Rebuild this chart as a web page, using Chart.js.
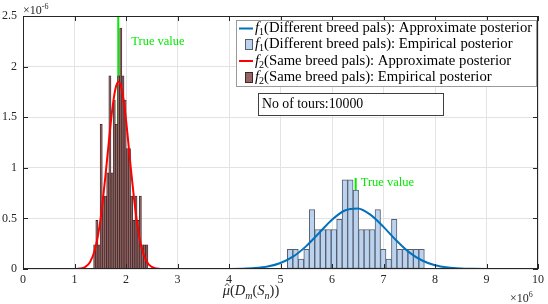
<!DOCTYPE html>
<html>
<head>
<meta charset="utf-8">
<script src="https://cdn.jsdelivr.net/npm/chart.js@4.4.1/dist/chart.umd.min.js"></script>
<style>
  html, body { margin: 0; padding: 0; background: #fff; }
  #wrap { width: 548px; height: 304px; }
</style>
</head>
<body>
<div id="wrap"><canvas id="postChart" width="548" height="304"></canvas></div>
<script>
// axis ticks (x in units of 1e6, y in units of 1e-6)
var xTickValues = [0, 1, 2, 3, 4, 5, 6, 7, 8, 9, 10];
var yTickValues = [0, 0.5, 1, 1.5, 2, 2.5];

// legend entries
var seriesNames = [
  'f_1(Different breed pals): Approximate posterior',
  'f_1(Different breed pals): Empirical posterior',
  'f_2(Same breed pals): Approximate posterior',
  'f_2(Same breed pals): Empirical posterior'
];

// f2 (same breed) histogram: 25 bins
var sameBinStart = 1.371;
var sameBinWidth = 0.0422;
var sameDensity = [0.24, 0.48, 0.24, 1.43, 0.72, 0.72, 0.95, 1.91, 0.95, 1.67, 1.43, 1.91, 2.38,
                   1.91, 1.67, 1.19, 1.19, 0.72, 0.48, 0.72, 0.48, 0.72, 0.24, 0.24, 0.24];

// f1 (different breed) histogram: 25 bins
var diffBinStart = 5.133;
var diffBinWidth = 0.1064;
var diffDensity = [0.195, 0.195, 0.098, 0.195, 0.586, 0.39, 0.39, 0.39, 0.39, 0.49, 0.88, 0.88, 0.78,
                   0.39, 0.39, 0.39, 0.586, 0.195, 0.098, 0.49, 0.195, 0.195, 0.195, 0.195, 0.195];

// approximate posterior curves
var sameCurveX = [0.78, 0.9, 1.0, 1.1, 1.2, 1.3, 1.4, 1.5, 1.6, 1.7, 1.75, 1.8, 1.85, 1.9, 1.95,
                  2.0, 2.1, 2.2, 2.3, 2.4, 2.5, 2.6, 2.7, 2.8, 2.9];
var sameCurveY = [0, 0.0001, 0.0007, 0.0039, 0.018, 0.066, 0.197, 0.473, 0.916, 1.426, 1.642, 1.79, 1.85,
                  1.81, 1.678, 1.474, 0.966, 0.511, 0.217, 0.074, 0.021, 0.0046, 0.0008, 0.0001, 0];
var diffCurveX = [2.47, 2.75, 3.0, 3.25, 3.5, 3.75, 4.0, 4.25, 4.5, 4.75, 5.0, 5.25, 5.5, 5.75, 6.0,
                  6.25, 6.5, 6.75, 7.0, 7.25, 7.5, 7.75, 8.0, 8.25, 8.5, 8.75, 9.0, 9.25, 9.5, 9.63];
var diffCurveY = [0, 0, 0, 0, 0, 0.0002, 0.0008, 0.0028, 0.0089, 0.0247, 0.0595, 0.124, 0.226, 0.356, 0.487,
                  0.578, 0.597, 0.535, 0.416, 0.281, 0.164, 0.084, 0.037, 0.0142, 0.0047, 0.0014, 0.0003, 0.0001, 0, 0];

// true values and the height of their markers
var trueSame = 1.85, trueSameTop = 2.5;
var trueDiff = 6.46, trueDiffTop = 0.9;
var trueLabel = 'True value';
var toursText = 'No of tours:10000';

var SERIF = "'Liberation Serif', 'DejaVu Serif', serif";
var BLUE = 'rgb(0,114,189)';
var GREEN = 'rgb(0,235,0)';

function pairs(xs, ys) {
  return xs.map(function (x, i) { return { x: x, y: ys[i] }; });
}
function bins(start, width, ys) {
  return ys.map(function (y, i) { return { x: start + (i + 0.5) * width, y: y }; });
}

// "f_1(...)" -> italic f, subscript 1, rest upright
function richPieces(str) {
  var m = /^([a-z])_(\w)(.*)$/.exec(str);
  if (!m) return [{ t: str }];
  return [{ t: m[1], it: true }, { t: m[2], sub: true }, { t: m[3] }];
}
function pieceFont(p, size) {
  var s = (p.sub || p.sup) ? Math.round(size * 0.7) : size;
  return (p.it ? 'italic ' : '') + s + 'px ' + SERIF;
}
function piecesWidth(ctx, pieces, size) {
  var w = 0;
  pieces.forEach(function (p) {
    ctx.font = pieceFont(p, size);
    w += ctx.measureText(p.t).width;
  });
  return w;
}
function drawPieces(ctx, pieces, x, y, size) {
  pieces.forEach(function (p) {
    ctx.font = pieceFont(p, size);
    var dy = p.sub ? size * 0.28 : (p.sup ? -size * 0.45 : 0);
    ctx.fillText(p.t, x, y + dy);
    if (p.hat) {
      var w = ctx.measureText(p.t).width;
      ctx.save();
      ctx.lineWidth = 0.8;
      ctx.strokeStyle = ctx.fillStyle;
      ctx.beginPath();
      ctx.moveTo(x + w * 0.3, y - size * 0.62);
      ctx.lineTo(x + w * 0.6, y - size * 0.8);
      ctx.lineTo(x + w * 0.9, y - size * 0.62);
      ctx.stroke();
      ctx.restore();
    }
    x += ctx.measureText(p.t).width;
  });
  return x;
}

// box round the axes with inward ticks, matlab style
var frame = {
  id: 'frame',
  afterDraw: function (chart) {
    var ctx = chart.ctx, a = chart.chartArea, sx = chart.scales.x, sy = chart.scales.y;
    ctx.save();
    ctx.strokeStyle = '#262626';
    ctx.lineWidth = 1;
    ctx.beginPath();
    sx.ticks.forEach(function (t) {
      var p = Math.round(sx.getPixelForValue(t.value)) + 0.5;
      ctx.moveTo(p, a.bottom); ctx.lineTo(p, a.bottom - 5);
      ctx.moveTo(p, a.top); ctx.lineTo(p, a.top + 5);
    });
    sy.ticks.forEach(function (t) {
      var p = Math.round(sy.getPixelForValue(t.value)) + 0.5;
      ctx.moveTo(a.left, p); ctx.lineTo(a.left + 5, p);
      ctx.moveTo(a.right, p); ctx.lineTo(a.right - 5, p);
    });
    ctx.stroke();
    ctx.strokeRect(Math.round(a.left) + 0.5, Math.round(a.top) + 0.5,
                   Math.round(a.right - a.left) - 1, Math.round(a.bottom - a.top) - 1);
    ctx.restore();
  }
};

// texts, legend, exponent labels, x label
var notes = {
  id: 'notes',
  afterDraw: function (chart) {
    var ctx = chart.ctx, sx = chart.scales.x, sy = chart.scales.y;
    ctx.save();
    ctx.textAlign = 'left';
    ctx.textBaseline = 'middle';

    ctx.fillStyle = GREEN;
    ctx.font = '12.5px ' + SERIF;
    ctx.fillText(trueLabel, sx.getPixelForValue(trueSame) + 13, sy.getPixelForValue(2.25));
    ctx.fillText(trueLabel, sx.getPixelForValue(trueDiff) + 5, sy.getPixelForValue(0.85));

    // legend
    var lx = 236.5, ly = 20.5, lw = 300, lh = 66;
    ctx.fillStyle = '#fff';
    ctx.fillRect(lx, ly, lw, lh);
    ctx.strokeStyle = '#9a9a9a';
    ctx.lineWidth = 1;
    ctx.strokeRect(lx, ly, lw, lh);
    var rows = [28.5, 44.5, 61, 77.5];
    chart.data.datasets.filter(function (d) { return d.legendIcon; }).forEach(function (d, i) {
      var cy = rows[i];
      if (d.legendIcon === 'line') {
        ctx.strokeStyle = d.borderColor;
        ctx.lineWidth = 2;
        ctx.beginPath(); ctx.moveTo(239, cy); ctx.lineTo(253, cy); ctx.stroke();
      } else {
        ctx.fillStyle = d.backgroundColor;
        ctx.fillRect(245, cy - 5.5, 8, 11);
        ctx.strokeStyle = d.borderColor;
        ctx.lineWidth = 1;
        ctx.strokeRect(245.5, cy - 5, 7, 10);
      }
      ctx.fillStyle = '#000';
      drawPieces(ctx, richPieces(d.label), 255, cy, 14.7);
    });

    // tours box
    ctx.fillStyle = '#fff';
    ctx.fillRect(258.5, 93.5, 185, 22);
    ctx.strokeStyle = '#404040';
    ctx.lineWidth = 1;
    ctx.strokeRect(258.5, 93.5, 185, 22);
    ctx.fillStyle = '#000';
    ctx.font = '13.8px ' + SERIF;
    ctx.fillText(toursText, 262, 104.5);

    // exponent labels
    ctx.fillStyle = '#262626';
    ctx.textBaseline = 'alphabetic';
    drawPieces(ctx, [{ t: '×10' }, { t: '-6', sup: true }], 23, 14, 12);
    drawPieces(ctx, [{ t: '×10' }, { t: '6', sup: true }], 510, 302, 12);

    // x label
    var title = [{ t: 'μ', it: true, hat: true }, { t: '(' }, { t: 'D', it: true }, { t: 'm', it: true, sub: true },
                 { t: '(' }, { t: 'S', it: true }, { t: 'n', it: true, sub: true }, { t: '))' }];
    var tw = piecesWidth(ctx, title, 14.5);
    drawPieces(ctx, title, 251 - tw / 2, 295, 14.5);
    ctx.restore();
  }
};

var tickFont = { family: SERIF, size: 12 };

var config = {
  type: 'bar',
  data: {
    datasets: [
      {
        type: 'line', label: seriesNames[0], legendIcon: 'line',
        data: pairs(diffCurveX, diffCurveY),
        borderColor: BLUE, borderWidth: 2, pointRadius: 0,
        cubicInterpolationMode: 'monotone', order: 1, xAxisID: 'x'
      },
      {
        type: 'bar', label: seriesNames[1], legendIcon: 'box',
        data: bins(diffBinStart, diffBinWidth, diffDensity),
        backgroundColor: 'rgb(188,211,240)', borderColor: 'rgb(85,95,110)', borderWidth: 1,
        borderSkipped: false, barPercentage: 1, categoryPercentage: 1, grouped: false,
        order: 5, xAxisID: 'x2'
      },
      {
        type: 'line', label: seriesNames[2], legendIcon: 'line',
        data: pairs(sameCurveX, sameCurveY),
        borderColor: 'rgb(255,0,0)', borderWidth: 2, pointRadius: 0,
        cubicInterpolationMode: 'monotone', order: 0, xAxisID: 'x'
      },
      {
        type: 'bar', label: seriesNames[3], legendIcon: 'box',
        data: bins(sameBinStart, sameBinWidth, sameDensity),
        backgroundColor: 'rgb(150,100,100)', borderColor: 'rgb(60,40,40)', borderWidth: 0.8,
        borderSkipped: false, barPercentage: 1, categoryPercentage: 1, grouped: false,
        order: 5, xAxisID: 'x'
      },
      {
        type: 'line', data: [{ x: trueSame, y: 0 }, { x: trueSame, y: trueSameTop }],
        borderColor: GREEN, borderWidth: 2, pointRadius: 0, order: 9, xAxisID: 'x'
      },
      {
        type: 'line', data: [{ x: trueDiff, y: 0 }, { x: trueDiff, y: trueDiffTop }],
        borderColor: GREEN, borderWidth: 2, pointRadius: 0, order: 9, xAxisID: 'x'
      }
    ]
  },
  options: {
    responsive: false,
    animation: false,
    devicePixelRatio: 1,
    layout: { padding: { top: 16, right: 10, left: 0, bottom: 0 } },
    plugins: { legend: { display: false }, tooltip: { enabled: false } },
    scales: {
      x: {
        type: 'linear', min: 0, max: 10, offset: false,
        afterBuildTicks: function (s) { s.ticks = xTickValues.map(function (v) { return { value: v }; }); },
        afterFit: function (s) { s.height = 35; },
        ticks: { font: tickFont, color: '#262626', padding: 4, maxRotation: 0,
                 callback: function (v) { return String(v); } },
        grid: { color: '#e3e3e3', drawTicks: false, offset: false },
        border: { display: false }
      },
      x2: {
        type: 'linear', min: 0, max: 10, offset: false, display: false,
        grid: { offset: false }
      },
      y: {
        type: 'linear', min: 0, max: 2.5,
        afterBuildTicks: function (s) { s.ticks = yTickValues.map(function (v) { return { value: v }; }); },
        afterFit: function (s) { s.width = 23; },
        ticks: { font: tickFont, color: '#262626', padding: 6,
                 callback: function (v) { return String(v); } },
        grid: { color: '#e3e3e3', drawTicks: false },
        border: { display: false }
      }
    }
  },
  plugins: [frame, notes]
};

var ctx = document.getElementById('postChart');
new Chart(ctx, config);
</script>
</body>
</html>
